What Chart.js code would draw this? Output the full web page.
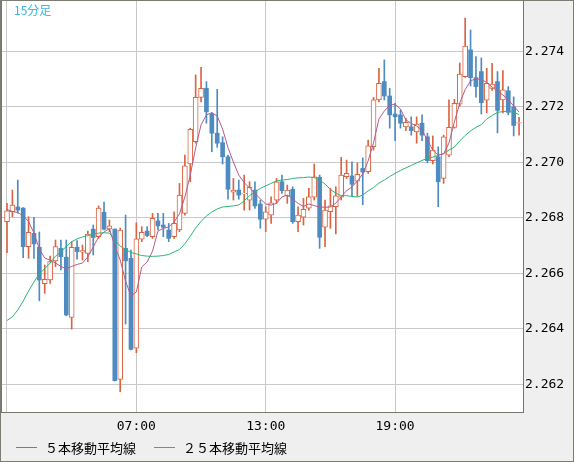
<!DOCTYPE html>
<html>
<head>
<meta charset="utf-8">
<script src="https://cdn.jsdelivr.net/npm/chart.js@4.4.1/dist/chart.umd.min.js"></script>
<style>
body { margin: 0; background: #fff; }
#wrap { width: 574px; height: 462px; box-sizing: border-box; border: 1px solid #7c7c74; background: #efefef; }
canvas { display: block; }
</style>
</head>
<body>
<div id="wrap"><canvas id="chart" width="572" height="460"></canvas></div>
<script>
// 15-minute candles, 01:00 -> 00:45
const opens = [2.26786, 2.26822, 2.26839, 2.26835, 2.26696, 2.26744, 2.26694, 2.26563, 2.26576, 2.26645,
    2.26690, 2.26658, 2.26441, 2.26694, 2.26676, 2.26672, 2.26759, 2.26732, 2.26820, 2.26759,
    2.26759, 2.26218, 2.26690, 2.26654, 2.26330, 2.26723, 2.26752, 2.26732, 2.26789, 2.26774,
    2.26756, 2.26732, 2.26756, 2.26816, 2.26994, 2.27074, 2.27234, 2.27267, 2.27174, 2.27105,
    2.27071, 2.27020, 2.26892, 2.26900, 2.26886, 2.26864, 2.26900, 2.26850, 2.26795, 2.26810,
    2.26864, 2.26930, 2.26879, 2.26903, 2.26786, 2.26802, 2.26835, 2.26874, 2.26946, 2.26766,
    2.26822, 2.26840, 2.26874, 2.26948, 2.26951, 2.26932, 2.26978, 2.26966, 2.27056, 2.27225,
    2.27291, 2.27239, 2.27174, 2.27171, 2.27128, 2.27128, 2.27110, 2.27141, 2.27092, 2.27006,
    2.27020, 2.26942, 2.27026, 2.27126, 2.27210, 2.27309, 2.27405, 2.27305, 2.27327, 2.27224,
    2.27266, 2.27291, 2.27225, 2.27258, 2.27200, 2.27141];
const highs = [2.26852, 2.26900, 2.26936, 2.26837, 2.26804, 2.26802, 2.26749, 2.26630, 2.26662, 2.26720,
    2.26720, 2.26720, 2.26714, 2.26718, 2.26702, 2.26752, 2.26774, 2.26843, 2.26857, 2.26792,
    2.26760, 2.26763, 2.26810, 2.26684, 2.26782, 2.26768, 2.26768, 2.26816, 2.26816, 2.26816,
    2.26780, 2.26822, 2.26924, 2.27026, 2.27123, 2.27315, 2.27342, 2.27291, 2.27179, 2.27263,
    2.27092, 2.27026, 2.26942, 2.26936, 2.26954, 2.26930, 2.26930, 2.26864, 2.26840, 2.26876,
    2.26942, 2.26954, 2.26918, 2.26912, 2.26840, 2.26870, 2.26906, 2.26994, 2.26954, 2.26864,
    2.26906, 2.26912, 2.27018, 2.27008, 2.27002, 2.26998, 2.27016, 2.27080, 2.27234, 2.27339,
    2.27369, 2.27267, 2.27213, 2.27189, 2.27159, 2.27164, 2.27164, 2.27171, 2.27105, 2.27095,
    2.27056, 2.27098, 2.27225, 2.27227, 2.27358, 2.27520, 2.27477, 2.27381, 2.27376, 2.27339,
    2.27357, 2.27327, 2.27331, 2.27273, 2.27236, 2.27162];
const lows = [2.26674, 2.26804, 2.26817, 2.26656, 2.26654, 2.26654, 2.26501, 2.26528, 2.26564, 2.26624,
    2.26612, 2.26447, 2.26399, 2.26651, 2.26648, 2.26642, 2.26666, 2.26726, 2.26756, 2.26750,
    2.26212, 2.26173, 2.26417, 2.26324, 2.26314, 2.26714, 2.26732, 2.26726, 2.26756, 2.26732,
    2.26714, 2.26726, 2.26750, 2.26810, 2.26930, 2.27069, 2.27218, 2.27141, 2.27038, 2.27054,
    2.26994, 2.26867, 2.26864, 2.26867, 2.26828, 2.26828, 2.26834, 2.26762, 2.26750, 2.26780,
    2.26852, 2.26888, 2.26852, 2.26780, 2.26750, 2.26774, 2.26828, 2.26864, 2.26690, 2.26696,
    2.26762, 2.26742, 2.26864, 2.26942, 2.26879, 2.26878, 2.26847, 2.26960, 2.27044, 2.27218,
    2.27225, 2.27123, 2.27078, 2.27123, 2.27114, 2.27098, 2.27069, 2.27078, 2.26998, 2.26994,
    2.26840, 2.26924, 2.27020, 2.27123, 2.27203, 2.27306, 2.27275, 2.27235, 2.27174, 2.27178,
    2.27259, 2.27106, 2.27178, 2.27171, 2.27095, 2.27098];
const closes = [2.26825, 2.26846, 2.26828, 2.26696, 2.26748, 2.26706, 2.26576, 2.26578, 2.26642, 2.26696,
    2.26660, 2.26450, 2.26694, 2.26678, 2.26682, 2.26741, 2.26729, 2.26835, 2.26759, 2.26771,
    2.26213, 2.26756, 2.26645, 2.26326, 2.26724, 2.26748, 2.26736, 2.26798, 2.26771, 2.26766,
    2.26726, 2.26780, 2.26882, 2.26987, 2.27119, 2.27234, 2.27267, 2.27182, 2.27105, 2.27069,
    2.27020, 2.26903, 2.26900, 2.26882, 2.26888, 2.26910, 2.26843, 2.26795, 2.26822, 2.26854,
    2.26930, 2.26898, 2.26900, 2.26786, 2.26810, 2.26831, 2.26876, 2.26948, 2.26730, 2.26828,
    2.26843, 2.26879, 2.26954, 2.26960, 2.26921, 2.26957, 2.26965, 2.27059, 2.27225, 2.27285,
    2.27239, 2.27171, 2.27164, 2.27141, 2.27144, 2.27114, 2.27138, 2.27098, 2.27006, 2.27044,
    2.26930, 2.27092, 2.27126, 2.27213, 2.27318, 2.27419, 2.27305, 2.27273, 2.27215, 2.27285,
    2.27282, 2.27187, 2.27261, 2.27180, 2.27133, 2.27143];
const ma5 = [2.26830, 2.26823, 2.26819, 2.26807, 2.26787, 2.26745, 2.26688, 2.26655, 2.26648, 2.26637,
    2.26625, 2.26616, 2.26625, 2.26632, 2.26637, 2.26659, 2.26695, 2.26731, 2.26749, 2.26761,
    2.26698, 2.26648, 2.26572, 2.26518, 2.26533, 2.26623, 2.26641, 2.26680, 2.26752, 2.26762,
    2.26767, 2.26785, 2.26814, 2.26875, 2.26954, 2.27052, 2.27135, 2.27171, 2.27179, 2.27167,
    2.27120, 2.27053, 2.27001, 2.26954, 2.26927, 2.26907, 2.26888, 2.26868, 2.26850, 2.26846,
    2.26852, 2.26875, 2.26882, 2.26868, 2.26852, 2.26841, 2.26850, 2.26844, 2.26839, 2.26838,
    2.26839, 2.26853, 2.26875, 2.26898, 2.26911, 2.26933, 2.26958, 2.27005, 2.27070, 2.27156,
    2.27185, 2.27205, 2.27210, 2.27192, 2.27153, 2.27140, 2.27131, 2.27115, 2.27080, 2.27044,
    2.27026, 2.27030, 2.27070, 2.27145, 2.27214, 2.27262, 2.27293, 2.27302, 2.27298, 2.27288,
    2.27271, 2.27257, 2.27243, 2.27225, 2.27203, 2.27181];
const ma25 = [2.26430, 2.26443, 2.26468, 2.26500, 2.26536, 2.26569, 2.26598, 2.26617, 2.26637, 2.26662,
    2.26677, 2.26697, 2.26714, 2.26724, 2.26731, 2.26736, 2.26742, 2.26745, 2.26746, 2.26745,
    2.26720, 2.26698, 2.26686, 2.26675, 2.26670, 2.26664, 2.26662, 2.26661, 2.26662, 2.26664,
    2.26668, 2.26677, 2.26686, 2.26706, 2.26734, 2.26763, 2.26787, 2.26807, 2.26821, 2.26832,
    2.26839, 2.26841, 2.26843, 2.26846, 2.26861, 2.26880, 2.26893, 2.26906, 2.26915, 2.26924,
    2.26933, 2.26936, 2.26938, 2.26942, 2.26944, 2.26945, 2.26947, 2.26945, 2.26936, 2.26922,
    2.26902, 2.26889, 2.26880, 2.26880, 2.26877, 2.26875, 2.26882, 2.26897, 2.26909, 2.26925,
    2.26936, 2.26949, 2.26960, 2.26971, 2.26980, 2.26989, 2.26998, 2.27007, 2.27014, 2.27019,
    2.27025, 2.27032, 2.27044, 2.27055, 2.27077, 2.27097, 2.27113, 2.27126, 2.27136, 2.27156,
    2.27169, 2.27180, 2.27183, 2.27184, 2.27181, 2.27172];

const timeTicks = ['01:00', '07:00', '13:00', '19:00'];
const priceTicks = [2.262, 2.264, 2.266, 2.268, 2.270, 2.272, 2.274];
const seriesNames = ['５本移動平均線', '２５本移動平均線'];
const title = '15分足';

const upColor = '#da6442';
const downColor = '#4e8bc0';
const ma5Color = '#b35d8e';
const ma25Color = '#2db673';
const frameColor = '#77776f';
const gridColor = '#c8c8c8';
const barsPerTick = 24; // 6 hours of 15-minute bars

let idx = opens.map((v, i) => i);
let up = idx.filter(i => closes[i] >= opens[i]);
let down = idx.filter(i => closes[i] < opens[i]);

const framePlugin = {
    id: 'frame',
    beforeDraw(chart) {
        let a = chart.chartArea;
        let ctx = chart.ctx;
        ctx.save();
        ctx.fillStyle = '#ffffff';
        ctx.fillRect(a.left, a.top, a.right - a.left, a.bottom - a.top);
        ctx.restore();
    },
    afterDraw(chart) {
        let a = chart.chartArea;
        let ctx = chart.ctx;
        ctx.save();
        ctx.strokeStyle = frameColor;
        ctx.lineWidth = 1;
        ctx.beginPath();
        ctx.moveTo(a.left + 0.5, a.top);
        ctx.lineTo(a.left + 0.5, a.bottom);
        ctx.stroke();

        ctx.fillStyle = '#3cb4e6';
        ctx.font = '12px "Noto Sans CJK JP"';
        ctx.textBaseline = 'middle';
        ctx.fillText(title, 13, 9);

        // legend
        let x = 15;
        let y = 446;
        ctx.font = '13px "Noto Sans CJK JP"';
        [ma5Color, ma25Color].forEach(function(color, n) {
            ctx.strokeStyle = color;
            ctx.beginPath();
            ctx.moveTo(x, y + 0.5);
            ctx.lineTo(x + 21, y + 0.5);
            ctx.stroke();
            ctx.fillStyle = '#000';
            ctx.fillText(seriesNames[n], x + 29, y + 1);
            x += 29 + ctx.measureText(seriesNames[n]).width + 18;
        });
        ctx.restore();
    }
};

new Chart(document.getElementById('chart'), {
    type: 'bar',
    data: {
        datasets: [{
            type: 'line',
            label: seriesNames[0],
            data: idx.map(i => ({ x: i, y: ma5[i] })),
            borderColor: ma5Color,
            borderWidth: 1,
            pointRadius: 0,
            order: 0
        }, {
            type: 'line',
            label: seriesNames[1],
            data: idx.map(i => ({ x: i, y: ma25[i] })),
            borderColor: ma25Color,
            borderWidth: 1,
            pointRadius: 0,
            order: 0
        }, {
            label: 'wick',
            data: idx.map(i => ({ x: i, y: [lows[i], highs[i]] })),
            backgroundColor: idx.map(i => closes[i] >= opens[i] ? upColor : downColor),
            barThickness: 1,
            grouped: false,
            order: 3
        }, {
            label: 'up',
            data: up.map(i => ({ x: i, y: [opens[i], closes[i]] })),
            backgroundColor: '#ffffff',
            borderColor: upColor,
            borderWidth: 1,
            borderSkipped: false,
            barThickness: 5,
            grouped: false,
            order: 2
        }, {
            label: 'down',
            data: down.map(i => ({ x: i, y: [closes[i], opens[i]] })),
            backgroundColor: downColor,
            barThickness: 4,
            grouped: false,
            order: 2
        }]
    },
    options: {
        responsive: false,
        animation: false,
        devicePixelRatio: 1,
        layout: { padding: 0 },
        plugins: {
            legend: { display: false },
            tooltip: { enabled: false }
        },
        scales: {
            x: {
                type: 'linear',
                min: -1.113,
                max: 95.73,
                offset: false,
                grid: { color: gridColor, drawTicks: false, offset: false },
                border: { color: frameColor },
                ticks: {
                    color: '#000',
                    padding: 7,
                    maxRotation: 0,
                    autoSkip: false,
                    font: { family: 'DejaVu Sans Mono', size: 13 },
                    callback: function(v) {
                        return v > 0 ? timeTicks[v / barsPerTick] : '';
                    }
                },
                afterBuildTicks: function(scale) {
                    scale.ticks = timeTicks.map((t, n) => ({ value: n * barsPerTick }));
                },
                afterFit: function(scale) {
                    scale.height = 49;
                    scale.paddingLeft = 0;
                    scale.paddingRight = 0;
                }
            },
            y: {
                position: 'right',
                min: 2.261002,
                max: 2.275814,
                grid: { color: gridColor, drawTicks: false },
                border: { color: frameColor },
                ticks: {
                    color: '#000',
                    padding: 2,
                    font: { family: 'DejaVu Sans Mono', size: 13 },
                    callback: v => v.toFixed(3)
                },
                afterBuildTicks: function(scale) {
                    scale.ticks = priceTicks.map(v => ({ value: v }));
                },
                afterFit: function(scale) {
                    scale.width = 50;
                    scale.paddingTop = 0;
                    scale.paddingBottom = 0;
                }
            }
        }
    },
    plugins: [framePlugin]
});
</script>
</body>
</html>
